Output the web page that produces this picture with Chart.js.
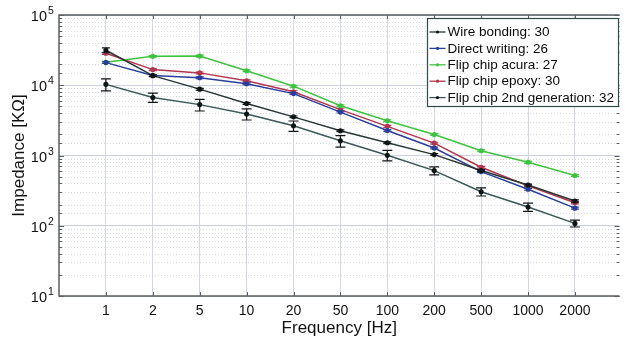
<!DOCTYPE html>
<html>
<head>
<meta charset="utf-8">
<title>Impedance vs frequency</title>
<script src="https://cdn.jsdelivr.net/npm/chart.js@4.4.1/dist/chart.umd.min.js"></script>
<style>
  html, body { margin: 0; padding: 0; background: #fff; }
  #chart { display: block; }
</style>
</head>
<body>
<canvas id="chart" width="625" height="341"></canvas>
<script>
// --- data (impedance in kOhm) ---
const freqLabels = ['1', '2', '5', '10', '20', '50', '100', '200', '500', '1000', '2000'];
const yDecades = [10, 100, 1000, 10000, 100000];

const seriesNames = [
    'Wire bonding: 30',
    'Direct writing: 26',
    'Flip chip acura: 27',
    'Flip chip epoxy: 30',
    'Flip chip 2nd generation: 32'
];

const wireBonding    = [31500, 13700, 8800, 5500, 3550, 2250, 1520, 1030, 610, 380, 225];
const directWriting  = [21000, 13800, 12800, 10500, 7600, 4150, 2270, 1280, 590, 330, 178];
const flipAcura      = [21300, 25800, 26000, 16100, 9700, 5100, 3130, 1990, 1170, 800, 520];
const flipEpoxy      = [28500, 16700, 15000, 11600, 8100, 4500, 2600, 1500, 680, 370, 212];
const flipSecondGen  = [10300, 6700, 5300, 3900, 2650, 1620, 1010, 610, 305, 185, 108];

// error bar half-lengths (same units)
const wireBondingErr   = [2500, 400, 250, 150, 100, 60, 40, 30, 20, 12, 8];
const directWritingErr = [600, 400, 400, 300, 220, 120, 70, 40, 18, 10, 6];
const flipAcuraErr     = [600, 700, 800, 500, 300, 150, 90, 60, 35, 25, 15];
const flipEpoxyErr     = [1000, 500, 450, 350, 250, 130, 80, 45, 20, 11, 7];
const flipSecondGenErr = [2000, 1000, 1000, 700, 450, 300, 170, 80, 40, 25, 12];

const FONT = "'Liberation Sans', Arial, Helvetica, sans-serif";

const seriesValues = [wireBonding, directWriting, flipAcura, flipEpoxy, flipSecondGen];
const seriesErrors = [wireBondingErr, directWritingErr, flipAcuraErr, flipEpoxyErr, flipSecondGenErr];
const lineColors  = ['#2b3636', '#2a3f9c', '#3fc33f', '#b3364f', '#3a5858'];
const pointColors = ['#101515', '#2a3f9c', '#3fc33f', '#b3364f', '#101515'];
const capWidths   = [4, 4, 4, 4, 5];

const isDecade = v => Math.abs(Math.log10(v) - Math.round(Math.log10(v))) < 1e-9;

// dotted minor grid lines of the log axis
const minorGrid = {
    id: 'minorGrid',
    beforeDatasetsDraw(chart) {
        const { ctx, chartArea: a, scales: { y } } = chart;
        ctx.save();
        ctx.strokeStyle = '#d6d8e2';
        ctx.lineWidth = 1;
        ctx.setLineDash([1, 2]);
        y.ticks.forEach(t => {
            if (isDecade(t.value)) return;
            const py = Math.round(y.getPixelForValue(t.value)) + 0.5;
            ctx.beginPath();
            ctx.moveTo(a.left, py);
            ctx.lineTo(a.right, py);
            ctx.stroke();
        });
        ctx.restore();
    }
};

// vertical error bars with caps
const errorBars = {
    id: 'errorBars',
    afterDatasetDraw(chart, args) {
        const i = args.index;
        const errs = seriesErrors[i];
        const vals = seriesValues[i];
        const y = chart.scales.y;
        const ctx = chart.ctx;
        const w = capWidths[i];
        ctx.save();
        ctx.strokeStyle = pointColors[i];
        ctx.lineWidth = 1.2;
        args.meta.data.forEach((pt, j) => {
            const top = y.getPixelForValue(vals[j] + errs[j]);
            const bot = y.getPixelForValue(vals[j] - errs[j]);
            ctx.beginPath();
            ctx.moveTo(pt.x, top); ctx.lineTo(pt.x, bot);
            ctx.moveTo(pt.x - w, top); ctx.lineTo(pt.x + w, top);
            ctx.moveTo(pt.x - w, bot); ctx.lineTo(pt.x + w, bot);
            ctx.stroke();
        });
        ctx.restore();
    }
};

// axes frame, inward tick marks and the 10^n labels
const frame = {
    id: 'frame',
    afterDatasetsDraw(chart) {
        const { ctx, chartArea: a, scales: { x, y } } = chart;
        ctx.save();
        ctx.strokeStyle = '#5a5f62';
        ctx.lineWidth = 1.5;
        ctx.beginPath();
        ctx.moveTo(a.right, a.top);
        ctx.lineTo(a.left, a.top);
        ctx.lineTo(a.left, a.bottom);
        ctx.lineTo(a.right, a.bottom);
        ctx.stroke();

        ctx.lineWidth = 1;
        ctx.beginPath();
        x.ticks.forEach(t => {
            const px = Math.round(x.getPixelForValue(t.value)) + 0.5;
            ctx.moveTo(px, a.bottom); ctx.lineTo(px, a.bottom - 4);
            ctx.moveTo(px, a.top); ctx.lineTo(px, a.top + 4);
        });
        y.ticks.forEach(t => {
            const py = Math.round(y.getPixelForValue(t.value)) + 0.5;
            const len = isDecade(t.value) ? 5 : 3;
            ctx.moveTo(a.left, py); ctx.lineTo(a.left + len, py);
            ctx.moveTo(a.right, py); ctx.lineTo(a.right - len, py);
        });
        ctx.stroke();

        ctx.fillStyle = '#111';
        ctx.textBaseline = 'alphabetic';
        yDecades.forEach(d => {
            const py = y.getPixelForValue(d);
            const exp = String(Math.round(Math.log10(d)));
            ctx.font = '14.5px ' + FONT;
            ctx.textAlign = 'right';
            ctx.fillText('10', a.left - 12, py + 6);
            ctx.font = '10.5px ' + FONT;
            ctx.textAlign = 'left';
            ctx.fillText(exp, a.left - 11, py - 1);
        });
        ctx.restore();
    }
};

// legend box inside the plot, top right
const boxLegend = {
    id: 'boxLegend',
    afterDraw(chart) {
        const ctx = chart.ctx;
        const bx = 427.5, by = 18.5, bw = 191, bh = 88;
        ctx.save();
        ctx.fillStyle = '#fff';
        ctx.fillRect(bx, by, bw, bh);
        ctx.strokeStyle = '#2f4a4a';
        ctx.lineWidth = 1.2;
        ctx.strokeRect(bx, by, bw, bh);
        ctx.font = '13.5px ' + FONT;
        ctx.textBaseline = 'middle';
        ctx.textAlign = 'left';
        seriesNames.forEach((name, i) => {
            const ry = by + 13.5 + i * 16.4;
            ctx.strokeStyle = lineColors[i];
            ctx.lineWidth = 1.3;
            ctx.beginPath();
            ctx.moveTo(bx + 2, ry); ctx.lineTo(bx + 18, ry);
            ctx.stroke();
            ctx.fillStyle = pointColors[i];
            ctx.beginPath();
            ctx.arc(bx + 10, ry, 1.6, 0, Math.PI * 2);
            ctx.fill();
            ctx.fillStyle = '#0a0a0a';
            ctx.fillText(name, bx + 20, ry + 0.5);
        });
        ctx.restore();
    }
};

const datasets = seriesNames.map((name, i) => ({
    label: name,
    data: seriesValues[i].map((v, j) => ({ x: j + 1, y: v })),
    borderColor: lineColors[i],
    backgroundColor: pointColors[i],
    pointBackgroundColor: pointColors[i],
    pointBorderColor: pointColors[i],
    pointRadius: 1.8,
    borderWidth: 1.5,
    tension: 0
}));

new Chart(document.getElementById('chart'), {
    type: 'line',
    data: { datasets },
    plugins: [minorGrid, errorBars, frame, boxLegend],
    options: {
        responsive: false,
        animation: false,
        layout: { padding: { top: 15, right: 0, left: 0, bottom: 0 } },
        plugins: {
            legend: { display: false },
            tooltip: { enabled: false }
        },
        scales: {
            x: {
                type: 'linear',
                min: 0,
                max: 11.95,
                afterBuildTicks: s => { s.ticks = freqLabels.map((_, i) => ({ value: i + 1 })); },
                afterFit: s => { s.height = 45; },
                grid: { color: '#d3d6e4', lineWidth: 1, drawTicks: false },
                border: { display: false },
                ticks: {
                    padding: 7,
                    maxRotation: 0,
                    autoSkip: false,
                    color: '#111',
                    font: { family: FONT, size: 14 },
                    callback: v => freqLabels[v - 1] || ''
                },
                title: {
                    display: true,
                    text: 'Frequency [Hz]',
                    color: '#111',
                    font: { family: FONT, size: 17 },
                    padding: { top: 0, bottom: 2 }
                }
            },
            y: {
                type: 'logarithmic',
                min: 10,
                max: 100000,
                afterFit: s => { s.width = 59; },
                grid: {
                    color: ctx => isDecade(ctx.tick.value) ? '#cdd0de' : 'rgba(0,0,0,0)',
                    lineWidth: 1,
                    drawTicks: false
                },
                border: { display: false },
                ticks: { display: true, autoSkip: false, callback: () => '' },
                title: {
                    display: true,
                    text: 'Impedance [KΩ]',
                    color: '#111',
                    font: { family: FONT, size: 17 },
                    padding: { top: 9, bottom: 0 }
                }
            }
        }
    }
});
</script>
</body>
</html>
